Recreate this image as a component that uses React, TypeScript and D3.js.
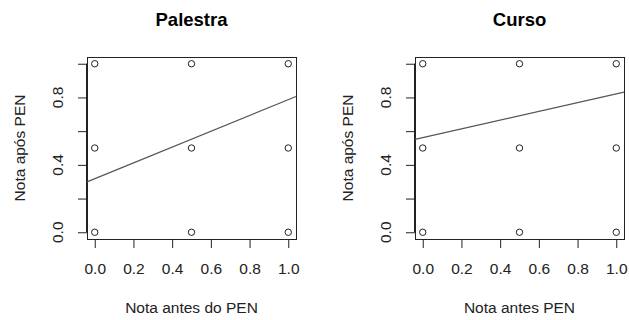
import React, { useEffect, useRef } from 'react';
import * as d3 from 'd3';

// dados
const palestraAntes = [0, 0, 0, 0.5, 0.5, 0.5, 1, 1, 1];
const palestraApos = [0, 0.5, 1, 0, 0.5, 1, 0, 0.5, 1];
const cursoAntes = [0, 0, 0, 0.5, 0.5, 0.5, 1, 1, 1];
const cursoApos = [0, 0.5, 1, 0, 0.5, 1, 0, 0.5, 1];
// reta de regressão (intercepto, inclinação)
const palestraFit = [0.318, 0.4685];
const cursoFit = [0.562, 0.259];
const xTicks = [0, 0.2, 0.4, 0.6, 0.8, 1];
const yTicks = [0, 0.2, 0.4, 0.6, 0.8, 1];
const yTickLabels = [0, 0.4, 0.8];

const FONT = '"Liberation Sans", Arial, sans-serif';
const top = 57, bottom = 239;

const panels = [
  { title: 'Palestra', xlab: 'Nota antes do PEN', ylab: 'Nota após PEN', x: palestraAntes, y: palestraApos, fit: palestraFit, left: 87, right: 296, offset: 0 },
  { title: 'Curso', xlab: 'Nota antes PEN', ylab: 'Nota após PEN', x: cursoAntes, y: cursoApos, fit: cursoFit, left: 415, right: 624, offset: 328 },
];

const Panel = ({ p }: { p: typeof panels[number] }) => {
  const gx = useRef<SVGGElement>(null);
  const gy = useRef<SVGGElement>(null);

  const x = d3.scaleLinear().domain([-0.04, 1.04]).range([p.left, p.right]);
  const y = d3.scaleLinear().domain([-0.04, 1.04]).range([bottom, top]);

  useEffect(() => {
    // eixo x
    const ax = d3.select(gx.current);
    ax.selectAll('*').remove();
    ax.call(d3.axisBottom(x).tickValues(xTicks).tickSize(9).tickSizeOuter(0).tickFormat(d3.format('.1f')) as any);
    ax.select('.domain').attr('d', `M${x(0)},0.5H${x(1)}`).attr('stroke', '#222');
    ax.selectAll('.tick line').attr('stroke', '#222');
    ax.selectAll('.tick text')
      .attr('y', 0).attr('dy', 0)
      .attr('transform', 'translate(0,35)')
      .style('font-family', FONT).style('font-size', '15.5px').attr('fill', '#222');

    // eixo y (rótulos girados, só alguns)
    const ay = d3.select(gy.current);
    ay.selectAll('*').remove();
    ay.call(d3.axisLeft(y).tickValues(yTicks).tickSize(9).tickSizeOuter(0).tickFormat(() => '') as any);
    ay.select('.domain').attr('d', `M-0.5,${y(0)}V${y(1)}`).attr('stroke', '#222');
    ay.selectAll('.tick line').attr('stroke', '#222');
    ay.selectAll('.lbl')
      .data(yTickLabels)
      .join('text')
      .attr('class', 'lbl')
      .attr('transform', d => `translate(-24,${y(d)}) rotate(-90)`)
      .attr('text-anchor', 'middle')
      .style('font-family', FONT).style('font-size', '15.5px').attr('fill', '#222')
      .text(d => d3.format('.1f')(d));
  }, []);

  const x0 = -0.04, x1 = 1.04;
  const cx = (p.left + p.right) / 2;
  const cy = (top + bottom) / 2;

  return (
    <g>
      <text x={cx} y={26} textAnchor="middle" fontFamily={FONT} fontWeight="bold" fontSize={18.5} fill="#000">{p.title}</text>
      <rect x={p.left + 0.5} y={top + 0.5} width={p.right - p.left} height={bottom - top} fill="none" stroke="#222" />
      <g ref={gx} transform={`translate(0,${bottom})`} />
      <g ref={gy} transform={`translate(${p.left},0)`} />
      <text x={cx} y={313} textAnchor="middle" fontFamily={FONT} fontSize={15.5} fill="#222">{p.xlab}</text>
      <text transform={`translate(${p.left - 62},${cy}) rotate(-90)`} textAnchor="middle" fontFamily={FONT} fontSize={15.5} fill="#222">{p.ylab}</text>
      <line x1={x(x0)} y1={y(p.fit[0] + p.fit[1] * x0)} x2={x(x1)} y2={y(p.fit[0] + p.fit[1] * x1)} stroke="#555" strokeWidth={1.2} />
      {p.x.map((v, i) => (
        <circle key={i} cx={x(v)} cy={y(p.y[i])} r={3.2} fill="none" stroke="#222" strokeWidth={1} />
      ))}
    </g>
  );
};

export default function App() {
  useEffect(() => { document.body.style.margin = '0'; }, []);
  return (
    <svg width={629} height={320} style={{ display: 'block', background: '#fff' }}>
      {panels.map(p => <Panel key={p.title} p={p} />)}
    </svg>
  );
}
